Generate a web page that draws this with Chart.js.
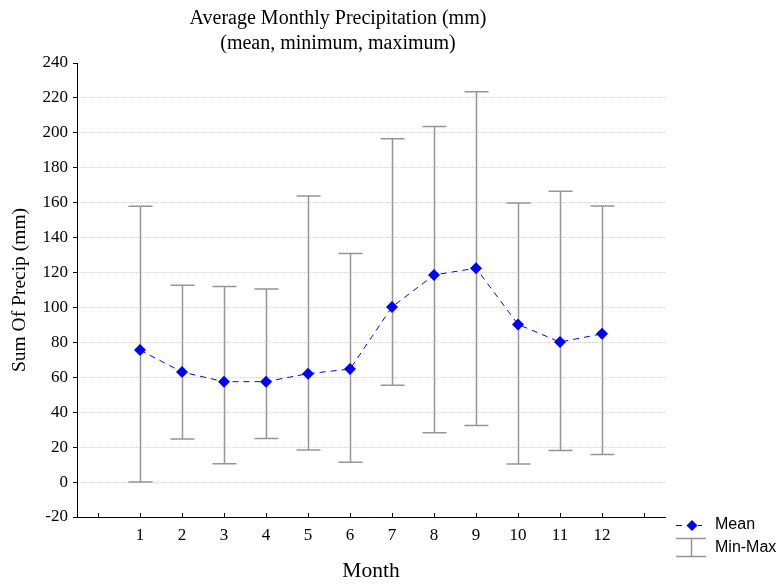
<!DOCTYPE html>
<html>
<head>
<meta charset="utf-8">
<title>Average Monthly Precipitation</title>
<script src="https://cdn.jsdelivr.net/npm/chart.js@4/dist/chart.umd.min.js"></script>
<style>
  html, body { margin: 0; padding: 0; background: #fff; }
  #wrap { position: relative; width: 779px; height: 584px; }
</style>
</head>
<body>
<div id="wrap"><canvas id="chart"></canvas></div>
<script>
// Monthly precipitation statistics (mm)
const months = [1, 2, 3, 4, 5, 6, 7, 8, 9, 10, 11, 12];
const meanPrecip = [75.6, 63.0, 57.5, 57.5, 62.1, 64.7, 100.3, 118.6, 122.5, 90.3, 80.2, 84.9];
const minPrecip = [0, 24.7, 10.5, 24.9, 18.3, 11.4, 55.4, 28.3, 32.4, 10.3, 18.1, 15.8];
const maxPrecip = [157.9, 112.7, 112.0, 110.6, 163.8, 130.9, 196.6, 203.6, 223.6, 159.8, 166.6, 158.1];
const yTicks = [-20, 0, 20, 40, 60, 80, 100, 120, 140, 160, 180, 200, 220, 240];
const xTicks = [0, 1, 2, 3, 4, 5, 6, 7, 8, 9, 10, 11, 12, 13];
const titleLines = ['Average Monthly Precipitation (mm)', '(mean, minimum, maximum)'];

const SERIF = '"Liberation Serif", "Times New Roman", serif';
const SANS = '"Liberation Sans", Arial, sans-serif';
const BAR_COLOR = '#959595';
const MEAN_COLOR = '#0000ff';
const GRID_COLOR = '#d2d2d2';

// Min-max whiskers, drawn under the mean line
const whiskerPlugin = {
  id: 'whiskers',
  beforeDatasetsDraw(chart) {
    const { ctx, scales: { x, y } } = chart;
    ctx.save();
    ctx.strokeStyle = BAR_COLOR;
    ctx.lineWidth = 1.5;
    months.forEach((m, i) => {
      const px = Math.round(x.getPixelForValue(m)) + 0.5;
      const top = y.getPixelForValue(maxPrecip[i]);
      const bot = y.getPixelForValue(minPrecip[i]);
      ctx.beginPath();
      ctx.moveTo(px, top); ctx.lineTo(px, bot);
      ctx.moveTo(px - 12, top); ctx.lineTo(px + 12, top);
      ctx.moveTo(px - 12, bot); ctx.lineTo(px + 12, bot);
      ctx.stroke();
    });
    ctx.restore();
  }
};

// Inward tick marks on the month axis
const innerTicksPlugin = {
  id: 'innerTicks',
  afterDraw(chart) {
    const { ctx, scales: { x }, chartArea } = chart;
    ctx.save();
    ctx.strokeStyle = '#000';
    ctx.lineWidth = 1;
    xTicks.forEach(v => {
      const px = Math.round(x.getPixelForValue(v)) + 0.5;
      ctx.beginPath();
      ctx.moveTo(px, chartArea.bottom);
      ctx.lineTo(px, chartArea.bottom - 4);
      ctx.stroke();
    });
    ctx.restore();
  }
};

// Two-line heading
const headingPlugin = {
  id: 'heading',
  afterDraw(chart) {
    const { ctx } = chart;
    ctx.save();
    ctx.fillStyle = '#000';
    ctx.font = '20px ' + SERIF;
    ctx.textAlign = 'center';
    ctx.textBaseline = 'middle';
    ctx.fillText(titleLines[0], 338, 19);
    ctx.fillText(titleLines[1], 338, 44);
    ctx.restore();
  }
};

// Legend block at the lower right
const keyPlugin = {
  id: 'key',
  afterDraw(chart) {
    const { ctx } = chart;
    ctx.save();
    // Mean entry
    ctx.strokeStyle = MEAN_COLOR;
    ctx.lineWidth = 1;
    ctx.setLineDash([6, 5]);
    ctx.beginPath();
    ctx.moveTo(676, 525.5); ctx.lineTo(702, 525.5);
    ctx.stroke();
    ctx.setLineDash([]);
    ctx.fillStyle = MEAN_COLOR;
    ctx.beginPath();
    ctx.moveTo(692, 520); ctx.lineTo(697.5, 525.5); ctx.lineTo(692, 531); ctx.lineTo(686.5, 525.5);
    ctx.closePath();
    ctx.fill();
    // Min-Max entry
    ctx.strokeStyle = BAR_COLOR;
    ctx.lineWidth = 1.5;
    ctx.beginPath();
    ctx.moveTo(676, 538.5); ctx.lineTo(706, 538.5);
    ctx.moveTo(676, 556.5); ctx.lineTo(706, 556.5);
    ctx.moveTo(691.5, 538.5); ctx.lineTo(691.5, 556.5);
    ctx.stroke();
    ctx.fillStyle = '#000';
    ctx.font = '16px ' + SANS;
    ctx.textAlign = 'left';
    ctx.textBaseline = 'middle';
    ctx.fillText('Mean', 715, 525);
    ctx.fillText('Min-Max', 715, 548);
    ctx.restore();
  }
};

const chart = new Chart(document.getElementById('chart'), {
  type: 'line',
  data: {
    datasets: [{
      label: 'Mean',
      data: months.map((m, i) => ({ x: m, y: meanPrecip[i] })),
      borderColor: MEAN_COLOR,
      backgroundColor: MEAN_COLOR,
      borderWidth: 1,
      borderDash: [6, 5],
      tension: 0,
      pointStyle: 'rectRot',
      pointRadius: 6,
      pointBorderWidth: 0,
      fill: false
    }]
  },
  plugins: [whiskerPlugin, innerTicksPlugin, headingPlugin, keyPlugin],
  options: {
    responsive: true,
    maintainAspectRatio: false,
    animation: false,
    devicePixelRatio: 1,
    layout: { padding: { left: 0, top: 63, right: 114, bottom: 0 } },
    plugins: {
      legend: { display: false },
      tooltip: { enabled: false },
      title: { display: false }
    },
    scales: {
      x: {
        type: 'linear',
        min: -0.5,
        max: 13.5,
        afterBuildTicks(scale) { scale.ticks = xTicks.map(v => ({ value: v })); },
        afterFit(scale) { scale.height = 67; },
        ticks: {
          autoSkip: false,
          maxRotation: 0,
          padding: 8,
          color: '#000',
          font: { family: SERIF, size: 17 },
          callback: v => (v >= 1 && v <= 12 ? String(v) : '')
        },
        grid: { display: true, drawOnChartArea: false, drawTicks: false },
        border: { display: true, color: '#000', width: 1 },
        title: {
          display: true,
          text: 'Month',
          color: '#000',
          font: { family: SERIF, size: 21.5 },
          padding: { top: 0, bottom: 0 }
        }
      },
      y: {
        type: 'linear',
        min: -20,
        max: 240,
        afterBuildTicks(scale) { scale.ticks = yTicks.map(v => ({ value: v })); },
        afterFit(scale) { scale.width = 77; },
        ticks: {
          padding: 5,
          color: '#000',
          font: { family: SERIF, size: 17 }
        },
        grid: {
          display: true,
          drawTicks: true,
          tickLength: 4,
          tickColor: '#000',
          tickWidth: 1,
          tickBorderDash: [],
          color: ctx => (ctx.tick && (ctx.tick.value === 240 || ctx.tick.value === -20) ? 'rgba(0,0,0,0)' : GRID_COLOR),
          lineWidth: 1
        },
        border: { display: true, color: '#000', width: 1, dash: [1, 1] },
        title: {
          display: true,
          text: 'Sum Of Precip (mm)',
          color: '#000',
          font: { family: SERIF, size: 19.5 },
          padding: { top: 8, bottom: 0 }
        }
      }
    }
  }
});
</script>
</body>
</html>
